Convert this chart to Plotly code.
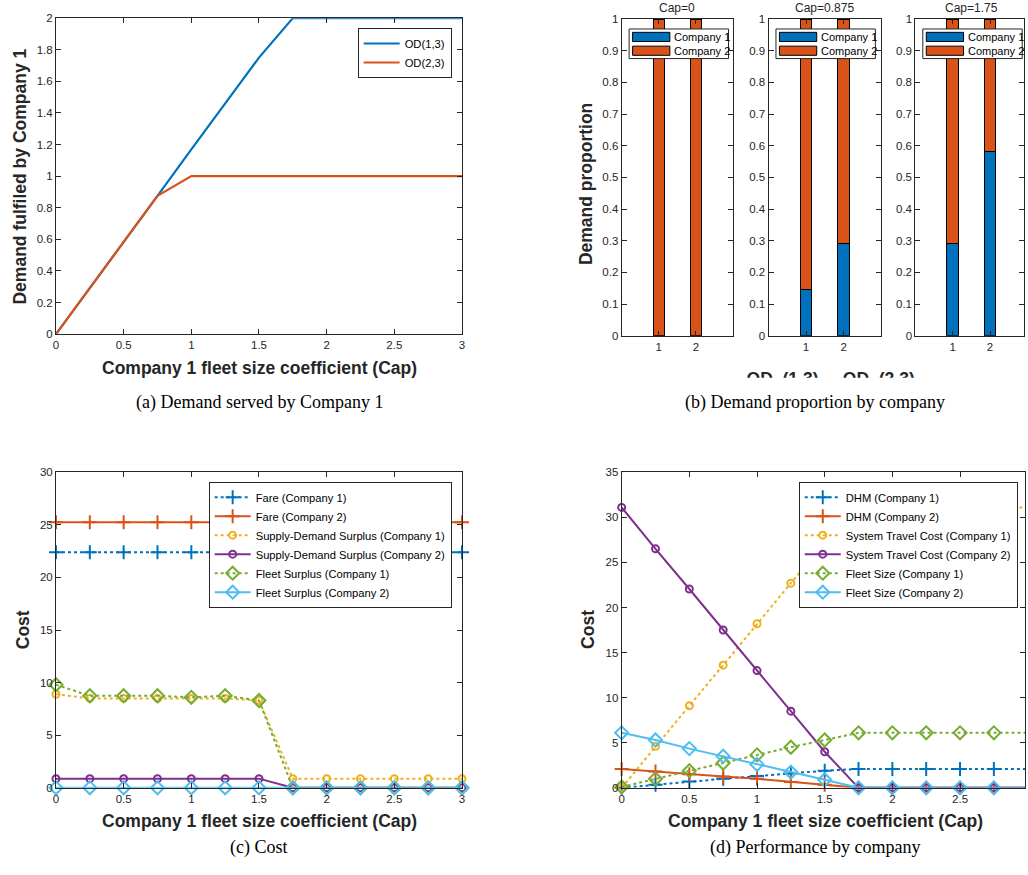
import plotly.graph_objects as go

W, H = 1028, 875

# ---------------- data ----------------
cap = [0, 0.25, 0.5, 0.75, 1, 1.25, 1.5, 1.75, 2, 2.25, 2.5, 2.75, 3]

# (a) demand served by company 1
od13 = [0, 0.29, 0.58, 0.875, 1.17, 1.46, 1.75, 2, 2, 2, 2, 2, 2]
od23 = [0, 0.29, 0.58, 0.875, 1, 1, 1, 1, 1, 1, 1, 1, 1]

# (b) demand proportion
bar_titles = ["Cap=0", "Cap=0.875", "Cap=1.75"]
od_ticks = [1, 2]
comp1_share = [[0, 0], [0.146, 0.292], [0.292, 0.583]]
comp2_share = [[1, 1], [0.854, 0.708], [0.708, 0.417]]
od_group_label = "OD  (1,3)     OD  (2,3)"

# (c) cost
fare1 = [22.4] * 13
fare2 = [25.25] * 13
sds1 = [8.9, 8.5, 8.5, 8.5, 8.5, 8.5, 8.3, 0.875, 0.875, 0.875, 0.875, 0.875, 0.875]
sds2 = [0.875, 0.875, 0.875, 0.875, 0.875, 0.875, 0.875, 0, 0, 0, 0, 0, 0]
fsur1 = [9.8, 8.75, 8.75, 8.75, 8.6, 8.75, 8.3, 0, 0, 0, 0, 0, 0]
fsur2 = [0] * 13

# (d) performance by company
dhm1 = [0, 0.35, 0.7, 1.0, 1.3, 1.6, 1.9, 2.1, 2.1, 2.1, 2.1, 2.1, 2.1]
dhm2 = [2.1, 1.8, 1.5, 1.25, 1.0, 0.65, 0.35, 0, 0, 0, 0, 0, 0]
stc1 = [0, 4.6, 9.1, 13.6, 18.2, 22.7, 27.2, 31.1, 31.1, 31.1, 31.1, 31.1, 31.1]
stc2 = [31.1, 26.5, 22.05, 17.5, 13.0, 8.5, 4.0, 0, 0, 0, 0, 0, 0]
fsz1 = [0.1, 1.0, 1.9, 2.75, 3.65, 4.5, 5.3, 6.1, 6.1, 6.1, 6.1, 6.1, 6.1]
fsz2 = [6.1, 5.3, 4.35, 3.5, 2.6, 1.75, 0.9, 0, 0, 0, 0, 0, 0]

# ---------------- style ----------------
C_BLUE = "#0072BD"
C_ORANGE = "#D95319"
C_YELLOW = "#EDB120"
C_PURPLE = "#7E2F8E"
C_GREEN = "#77AC30"
C_CYAN = "#4DBEEE"
AX = "#262626"
SANS = "Liberation Sans, Arial, sans-serif"
SERIF = "Liberation Serif, Times New Roman, serif"
TICK = 11.5
TITLE = 17.5
CAPTION = 18


def px(x):
    return x / W


def py(y):
    return 1 - y / H


fig = go.Figure()


def axis_style(**kw):
    d = dict(showline=True, linecolor=AX, linewidth=1, mirror="ticks",
             ticks="inside", ticklen=5, tickcolor=AX, showgrid=False,
             zeroline=False, tickfont=dict(family=SANS, size=TICK, color=AX))
    d.update(kw)
    return d


# ---------- (a) ----------
fig.add_trace(go.Scatter(x=cap, y=od13, mode="lines", name="OD(1,3)",
                         line=dict(color=C_BLUE, width=2.2),
                         xaxis="x", yaxis="y", legend="legend", cliponaxis=False))
fig.add_trace(go.Scatter(x=cap, y=od23, mode="lines", name="OD(2,3)",
                         line=dict(color=C_ORANGE, width=2.2),
                         xaxis="x", yaxis="y", legend="legend", cliponaxis=False))

# ---------- (b) ----------
bar_lefts = [622.3, 770.0, 917.7]
bar_rights = [734.3, 883.3, 1027.0]
bar_ranges = [[0, 3], [0, 3], [0, 2.91]]
for i in range(3):
    xa = "x%d" % (i + 2)
    ya = "y%d" % (i + 2)
    fig.add_trace(go.Bar(x=od_ticks, y=comp1_share[i], width=0.31,
                         marker=dict(color=C_BLUE, line=dict(color="black", width=1)),
                         xaxis=xa, yaxis=ya, showlegend=False))
    fig.add_trace(go.Bar(x=od_ticks, y=comp2_share[i], width=0.31,
                         marker=dict(color=C_ORANGE, line=dict(color="black", width=1)),
                         xaxis=xa, yaxis=ya, showlegend=False))

# group label under the bar panels (cropped at its middle in the source figure):
# drawn as a text node in a thin hidden subplot so that it is clipped there
fig.add_trace(go.Scatter(x=[0.5], y=[-0.13], mode="text",
                         text=["<b>" + od_group_label.replace(" ", "&nbsp;") + "</b>"],
                         textposition="middle center",
                         textfont=dict(family=SANS, size=TITLE, color=AX),
                         xaxis="x7", yaxis="y7", showlegend=False, cliponaxis=True,
                         hoverinfo="skip"))


# ---------- (c) ----------
def line_trace(x, y, name, color, dash, symbol, size, ax, leg):
    return go.Scatter(x=x, y=y, mode="lines+markers", name=name,
                      line=dict(color=color, width=2, dash=dash),
                      marker=dict(symbol=symbol, size=size, color=color,
                                  line=dict(color=color, width=2)),
                      xaxis="x" + ax, yaxis="y" + ax, legend=leg, cliponaxis=False)


fig.add_trace(line_trace(cap, fare1, "Fare (Company 1)", C_BLUE, "dot", "cross-thin", 10, "5", "legend2"))
fig.add_trace(line_trace(cap, fare2, "Fare (Company 2)", C_ORANGE, "solid", "cross-thin", 10, "5", "legend2"))
fig.add_trace(line_trace(cap, sds1, "Supply-Demand Surplus (Company 1)", C_YELLOW, "dot", "circle-open", 7, "5", "legend2"))
fig.add_trace(line_trace(cap, sds2, "Supply-Demand Surplus (Company 2)", C_PURPLE, "solid", "circle-open", 7, "5", "legend2"))
fig.add_trace(line_trace(cap, fsur1, "Fleet Surplus (Company 1)", C_GREEN, "dot", "diamond-open", 10, "5", "legend2"))
fig.add_trace(line_trace(cap, fsur2, "Fleet Surplus (Company 2)", C_CYAN, "solid", "diamond-open", 10, "5", "legend2"))

# ---------- (d) ----------
fig.add_trace(line_trace(cap, dhm1, "DHM (Company 1)", C_BLUE, "dot", "cross-thin", 10, "6", "legend3"))
fig.add_trace(line_trace(cap, dhm2, "DHM (Company 2)", C_ORANGE, "solid", "cross-thin", 10, "6", "legend3"))
fig.add_trace(line_trace(cap, stc1, "System Travel Cost (Company 1)", C_YELLOW, "dot", "circle-open", 7, "6", "legend3"))
fig.add_trace(line_trace(cap, stc2, "System Travel Cost (Company 2)", C_PURPLE, "solid", "circle-open", 7, "6", "legend3"))
fig.add_trace(line_trace(cap, fsz1, "Fleet Size (Company 1)", C_GREEN, "dot", "diamond-open", 10, "6", "legend3"))
fig.add_trace(line_trace(cap, fsz2, "Fleet Size (Company 2)", C_CYAN, "solid", "diamond-open", 10, "6", "legend3"))

# ---------------- layout ----------------
legend_common = dict(bgcolor="white", bordercolor=AX, borderwidth=1,
                     font=dict(family=SANS, size=11.2, color="black"),
                     xanchor="right", yanchor="top", itemwidth=36,
                     tracegroupgap=0, traceorder="normal")

layout = dict(
    width=W, height=H, margin=dict(l=0, r=0, t=0, b=0),
    paper_bgcolor="white", plot_bgcolor="white",
    barmode="stack", bargap=0,
    xaxis=axis_style(domain=[px(53.3), px(461.7)], range=[0, 3], dtick=0.5, anchor="y"),
    yaxis=axis_style(domain=[py(332.7), py(12.3)], range=[0, 2], dtick=0.2, anchor="x"),
    xaxis5=axis_style(domain=[px(53.3), px(461.7)], range=[0, 3], dtick=0.5, anchor="y5"),
    yaxis5=axis_style(domain=[py(792.7), py(472.7)], range=[0, 30], dtick=5, anchor="x5"),
    xaxis6=axis_style(domain=[px(622.3), 1.0], range=[0, 2.98], dtick=0.5, anchor="y6"),
    yaxis6=axis_style(domain=[py(792.7), py(472.7)], range=[0, 35], dtick=5, anchor="x6"),
    xaxis7=dict(domain=[px(690), px(975)], range=[0, 1], visible=False, fixedrange=True,
                anchor="y7"),
    yaxis7=dict(domain=[py(377), py(358)], range=[0, 1], visible=False, fixedrange=True,
                anchor="x7"),
    legend=dict(legend_common, x=px(451.3), y=py(22.3)),
    legend2=dict(legend_common, x=px(451.3), y=py(482.3)),
    legend3=dict(legend_common, x=px(1020.7), y=py(482.3)),
    showlegend=True,
)
for i in range(3):
    layout["xaxis%d" % (i + 2)] = axis_style(domain=[px(bar_lefts[i]), px(bar_rights[i])],
                                             range=bar_ranges[i], tickvals=od_ticks,
                                             anchor="y%d" % (i + 2))
    layout["yaxis%d" % (i + 2)] = axis_style(domain=[py(334.3), py(13.3)], range=[0, 1],
                                             dtick=0.1, anchor="x%d" % (i + 2))
fig.update_layout(**layout)

# ---------------- annotations ----------------
ann = []
shapes = []


def text(x, y, s, size, bold=False, family=SANS, angle=0, color=AX,
         xanchor="center", yanchor="middle"):
    ann.append(dict(x=px(x), y=py(y), xref="paper", yref="paper",
                    text="<b>%s</b>" % s if bold else s, showarrow=False,
                    font=dict(family=family, size=size, color=color),
                    textangle=angle, xanchor=xanchor, yanchor=yanchor))


# axis titles
text(258, 367, "Company 1 fleet size coefficient (Cap)", TITLE, bold=True)
text(17, 173, "Demand fulfiled by Company 1", TITLE, bold=True, angle=-90)
text(586, 181, "Demand proportion", TITLE, bold=True, angle=-90)
text(258, 826, "Company 1 fleet size coefficient (Cap)", TITLE, bold=True)
text(20, 632, "Cost", TITLE, bold=True, angle=-90)
text(827, 826, "Company 1 fleet size coefficient (Cap)", TITLE, bold=True)
text(589, 632, "Cost", TITLE, bold=True, angle=-90)

# captions
text(258, 402, "(a) Demand served by Company 1", CAPTION, family=SERIF, color="black")
text(817, 402, "(b) Demand proportion by company", CAPTION, family=SERIF, color="black")
text(258, 853, "(c) Cost", CAPTION, family=SERIF, color="black")
text(817, 853, "(d) Performance by company", CAPTION, family=SERIF, color="black")

# bar panel titles and legends
for i in range(3):
    L = bar_lefts[i]
    cx = L + 56
    text(cx, 2, bar_titles[i], 12)
    shapes.append(dict(type="rect", xref="paper", yref="paper",
                       x0=px(L + 7.5), x1=px(L + 107.5), y0=py(53.3), y1=py(23.3),
                       fillcolor="white", line=dict(color=AX, width=1), layer="above"))
    for j, (col, lab, y0, y1) in enumerate([(C_BLUE, "Company 1", 26.7, 36.0),
                                            (C_ORANGE, "Company 2", 40.7, 50.0)]):
        shapes.append(dict(type="rect", xref="paper", yref="paper",
                           x0=px(L + 11), x1=px(L + 48.5), y0=py(y1), y1=py(y0),
                           fillcolor=col, line=dict(color="black", width=1), layer="above"))
        text(L + 50.5, (y0 + y1) / 2, lab, 11, color="black", xanchor="left")

fig.update_layout(annotations=ann, shapes=shapes)
fig.write_html("out.html",
               config={"displayModeBar": False, "staticPlot": True},
               post_script="document.body.style.margin='0px';"
                           "document.body.style.overflow='hidden';")
